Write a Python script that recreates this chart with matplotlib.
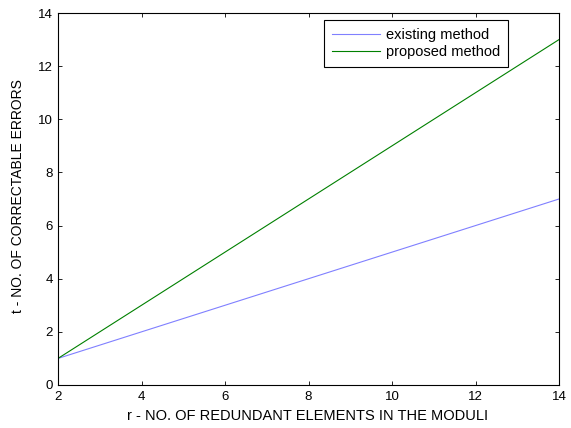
import matplotlib
matplotlib.use("Agg")
import matplotlib.pyplot as plt

plt.rcParams['font.family'] = ['Liberation Sans', 'DejaVu Sans']

# data
r = [2, 4, 6, 8, 10, 12, 14]
existing = [1, 2, 3, 4, 5, 6, 7]
proposed = [1, 3, 5, 7, 9, 11, 13]

fig = plt.figure(figsize=(5.71, 4.28), dpi=100)
ax = fig.add_axes([0.1016, 0.1005, 0.8774, 0.8691])

ax.plot(r, existing, color='#8080ff', lw=0.8, label='existing method')
ax.plot(r, proposed, color='#008000', lw=0.8, label='proposed method')

ax.set_xlim(2, 14)
ax.set_ylim(0, 14)
ax.set_xticks([2, 4, 6, 8, 10, 12, 14])
ax.set_yticks([0, 2, 4, 6, 8, 10, 12, 14])
ax.tick_params(direction='in', top=True, right=True, labelsize=9.5, length=3, width=0.6)
ax.tick_params(axis='x', pad=4.5)
for s in ax.spines.values():
    s.set_linewidth(0.8)

ax.set_xlabel('r - NO. OF REDUNDANT ELEMENTS IN THE MODULI', fontsize=10.5)
ax.set_ylabel('t - NO. OF CORRECTABLE ERRORS', fontsize=10)
ax.xaxis.set_label_coords(0.499, -0.064)
ax.yaxis.set_label_coords(-0.066, 0.508)

leg = ax.legend(loc='upper right', bbox_to_anchor=(0.898, 0.981), borderaxespad=0,
                fontsize=10.5, fancybox=False, framealpha=1, edgecolor='black',
                handlelength=3.3, handletextpad=0.4, borderpad=0.55, labelspacing=0.2)
leg.get_frame().set_linewidth(0.8)

fig.savefig('out.png', dpi=100)
